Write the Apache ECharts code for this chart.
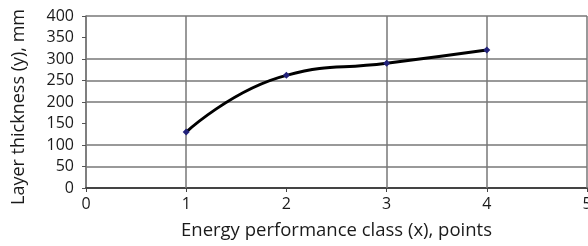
<!DOCTYPE html>
<html><head><meta charset="utf-8">
<script src="https://cdn.jsdelivr.net/npm/echarts@6/dist/echarts.min.js"></script>
<style>html,body{margin:0;padding:0;background:#fff}#c{width:588px;height:246px}</style>
</head><body><div id="c"></div>
<script>
const xValues = [1, 2, 3, 4];
const yValues = [130, 262, 290, 321];
const xTicks = [0, 1, 2, 3, 4, 5];
const yTicks = [0, 50, 100, 150, 200, 250, 300, 350, 400];
const xGridValues = [1, 3, 4, 5];
const yGridValues = [50, 100, 200, 250, 300, 400];
const xTitle = 'Energy performance class (x), points';
const yTitle = 'Layer thickness (y), mm';

const font = 'Open Sans';
const chart = echarts.init(document.getElementById('c'), null, {renderer: 'canvas'});
const gridStyle = {color: '#777', width: 1.5, type: 'solid'};
chart.setOption({
  animation: false,
  grid: {left: 86, right: 1, top: 16, bottom: 58, containLabel: false, outerBoundsMode: 'none'},
  xAxis: {
    type: 'value', min: xTicks[0], max: xTicks[xTicks.length - 1], interval: 1,
    name: xTitle, nameLocation: 'middle', nameGap: 33,
    nameTextStyle: {fontFamily: font, fontSize: 18.5, color: '#1a1a1a'},
    axisLine: {show: true, lineStyle: {color: '#444', width: 2}},
    axisTick: {show: true, length: 4, lineStyle: {color: '#444'}},
    axisLabel: {fontFamily: font, fontSize: 16, color: '#1a1a1a', margin: 8},
    splitLine: {show: false}
  },
  yAxis: {
    type: 'value', min: yTicks[0], max: yTicks[yTicks.length - 1], interval: 50,
    name: yTitle, nameLocation: 'middle', nameGap: 58,
    nameTextStyle: {fontFamily: font, fontSize: 18, color: '#1a1a1a', padding: [0, 10, 0, 0]},
    axisLine: {show: true, lineStyle: {color: '#555', width: 1.5}},
    axisTick: {show: true, length: 4, lineStyle: {color: '#555'}},
    axisLabel: {fontFamily: font, fontSize: 16, color: '#1a1a1a', margin: 12},
    splitLine: {show: false}
  },
  series: [
    {
      type: 'line', data: [], z: 1, silent: true,
      markLine: {
        silent: true, symbol: 'none', label: {show: false},
        lineStyle: gridStyle, animation: false,
        data: xGridValues.map(v => ({xAxis: v})).concat(yGridValues.map(v => ({yAxis: v})))
      }
    },
    {
      type: 'line', z: 5,
      data: xValues.map((x, i) => [x, yValues[i]]),
      smooth: 0.5,
      lineStyle: {color: '#000', width: 3},
      symbol: 'diamond', symbolSize: 7,
      itemStyle: {color: '#22227a'}
    }
  ]
});
</script></body></html>
